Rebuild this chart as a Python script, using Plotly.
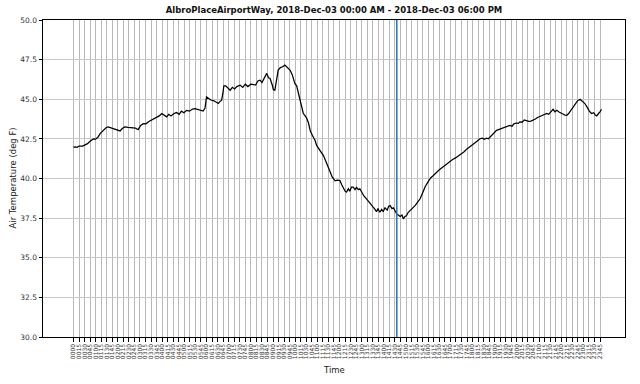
import plotly.graph_objects as go

# ---- data ----
times = [
    "00:00","00:05","00:10","00:15","00:25","00:31","00:38","00:45","00:54","01:00",
    "01:06","01:12","01:20","01:28","01:34","01:40","01:50","01:58","02:06","02:12",
    "02:19","02:28","02:38","02:48","02:55","03:02","03:09","03:16","03:24","03:32",
    "03:38","03:45","03:52","03:59","04:05","04:12","04:18","04:24","04:32","04:39",
    "04:46","04:52","04:59","05:06","05:14","05:22","05:29","05:36","05:44","05:51",
    "05:56","06:00","06:06","06:12","06:20","06:26","06:32","06:36","06:41","06:45",
    "06:47","06:52","06:58","07:04","07:10","07:16","07:22","07:31","07:38","07:45",
    "07:52","08:00","08:07","08:13","08:19","08:25","08:30","08:36","08:43","08:48",
    "08:52","08:58","09:01","09:05","09:09","09:14","09:20","09:26","09:32","09:38",
    "09:42","09:46","09:52","09:59","10:04","10:08","10:13","10:17","10:22","10:27",
    "10:31","10:36","10:41","10:47","10:54","10:58","11:04","11:10","11:16","11:21",
    "11:25","11:30","11:35","11:40","11:43","11:48","11:54","12:01","12:06","12:10",
    "12:15","12:19","12:24","12:28","12:32","12:37","12:42","12:46","12:51","12:55",
    "13:00","13:06","13:13","13:18","13:24","13:31","13:36","13:40","13:44","13:49",
    "13:54","13:58","14:03","14:09","14:13","14:17","14:22","14:26","14:30","14:35",
    "14:40","14:44","14:49","14:53","14:57","15:01","15:06","15:12","15:18","15:25",
    "15:31","15:38","15:45","15:52","16:00","16:07","16:14","16:22","16:30","16:38",
    "16:46","16:50","16:58","17:06","17:14","17:20","17:26","17:32","17:38","17:44",
    "17:50","17:53","18:00","18:06","18:12","18:20","18:26","18:32","18:38","18:43",
    "18:50","18:57","19:05","19:12","19:18","19:24","19:30","19:36","19:41","19:47",
    "19:52","19:58","20:04","20:08","20:14","20:20","20:26","20:32","20:38","20:44",
    "20:50","20:56","21:02","21:08","21:14","21:21","21:26","21:32","21:38","21:43",
    "21:48","21:54","22:00","22:06","22:10","22:15","22:20","22:26","22:33","22:38",
    "22:44","22:51","22:57","23:04","23:10","23:16","23:22","23:28","23:32","23:36",
    "23:41","23:45","23:49",
]
temps = [
    41.98,42.00,41.97,42.05,42.05,42.10,42.20,42.35,42.50,42.48,
    42.60,42.83,43.00,43.20,43.25,43.20,43.15,43.10,43.00,43.15,
    43.25,43.22,43.20,43.18,43.08,43.35,43.46,43.45,43.60,43.70,
    43.80,43.89,43.95,44.10,44.00,43.89,44.05,43.95,44.10,44.16,
    44.05,44.25,44.15,44.30,44.25,44.38,44.41,44.35,44.28,44.26,
    44.45,45.15,45.05,44.95,44.90,44.80,44.73,44.85,44.94,45.50,
    45.85,45.85,45.70,45.57,45.75,45.65,45.80,45.89,45.75,45.95,
    45.80,45.95,45.93,45.90,46.15,46.20,46.05,46.30,46.63,46.35,
    46.31,45.90,45.60,45.57,46.20,46.84,47.00,47.05,47.15,47.00,
    46.90,46.84,46.55,46.00,45.85,45.47,45.00,44.60,44.10,43.95,
    43.82,43.50,43.00,42.70,42.40,42.09,41.90,41.70,41.46,41.20,
    41.00,40.70,40.40,40.10,39.98,39.85,39.90,39.87,39.60,39.40,
    39.20,39.14,39.35,39.20,39.45,39.45,39.30,39.45,39.30,39.35,
    39.10,38.90,38.72,38.55,38.35,38.19,38.05,37.90,38.10,37.87,
    38.05,37.90,38.15,38.00,38.25,38.29,38.10,38.15,37.97,37.75,
    37.68,37.60,37.70,37.45,37.60,37.65,37.87,38.00,38.15,38.30,
    38.50,38.72,39.10,39.50,39.80,40.05,40.19,40.40,40.55,40.70,
    40.85,40.93,41.05,41.20,41.30,41.40,41.46,41.55,41.70,41.85,
    41.95,41.99,42.10,42.20,42.35,42.51,42.55,42.48,42.55,42.51,
    42.70,42.85,43.04,43.10,43.15,43.20,43.25,43.30,43.35,43.30,
    43.45,43.50,43.48,43.57,43.55,43.70,43.65,43.60,43.62,43.67,
    43.75,43.85,43.90,44.00,44.05,44.10,44.05,44.20,44.37,44.20,
    44.30,44.20,44.15,44.05,44.00,43.99,44.10,44.30,44.52,44.70,
    44.90,45.00,44.90,44.73,44.50,44.25,44.10,44.15,44.00,43.95,
    44.10,44.20,44.37,
]
marker_time = "14:35"
tick_labels = ["%02d%02d" % (h, m) for h in range(24) for m in (0, 15, 30, 45)]
title_text = "AlbroPlaceAirportWay, 2018-Dec-03 00:00 AM - 2018-Dec-03 06:00 PM"


def to_min(s):
    h, m = s.split(":")
    return int(h) * 60 + int(m)


xs = [to_min(t) for t in times]
tick_vals = [to_min(l[:2] + ":" + l[2:]) for l in tick_labels]
mx = to_min(marker_time)

fig = go.Figure()
fig.add_trace(go.Scatter(x=xs, y=temps, mode="lines",
                         line=dict(color="black", width=1.25), showlegend=False))
fig.add_shape(type="line", x0=mx, x1=mx, y0=0, y1=1, xref="x", yref="paper",
              line=dict(color="#1f77b4", width=1.5))

font = "DejaVu Sans"
fig.update_layout(
    width=640, height=384,
    margin=dict(l=43, r=15, t=20, b=47),
    paper_bgcolor="white", plot_bgcolor="white",
    font=dict(family=font, color="#222"),
    title=dict(text="<b>" + title_text + "</b>", x=0.5, xref="paper",
               y=1 - 10 / 384, yref="container", yanchor="middle", xanchor="center",
               font=dict(size=8.5, family=font, color="#111")),
    xaxis=dict(range=[-82.5, 1492.6], tickmode="array", tickvals=tick_vals,
               ticktext=tick_labels, tickangle=-90, tickfont=dict(size=6, color="#333"),
               showgrid=True, gridcolor="#b8b8b8", gridwidth=0.8,
               showline=True, linecolor="black", linewidth=1, mirror=True,
               ticks="outside", ticklen=3.5, tickcolor="black", zeroline=False),
    yaxis=dict(range=[30, 50], tickmode="linear", tick0=30, dtick=2.5, tickformat=".1f",
               tickfont=dict(size=7.5, color="#333"),
               showgrid=True, gridcolor="#c8c8c8", gridwidth=0.8,
               showline=True, linecolor="black", linewidth=1, mirror=True,
               ticks="outside", ticklen=3.5, tickcolor="black", zeroline=False),
    annotations=[
        dict(text="Air Temperature (deg F)", x=(12 - 43) / (640 - 43 - 15), y=0.5,
             xref="paper", yref="paper",
             showarrow=False, textangle=-90, font=dict(size=8.5, color="#222"),
             xanchor="center", yanchor="middle"),
        dict(text="Time", x=0.5, y=-33 / 317, xref="paper", yref="paper",
             showarrow=False, font=dict(size=8.5, color="#222"),
             xanchor="center", yanchor="middle"),
    ],
)
fig.write_html("out.html")
